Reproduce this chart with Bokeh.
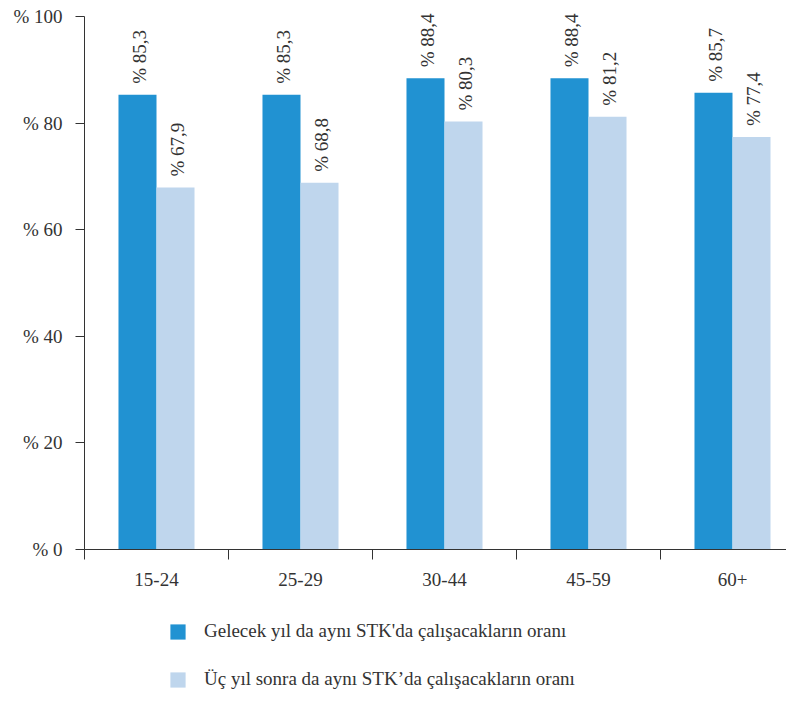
import numpy as np
from bokeh.plotting import figure
from bokeh.layouts import column
from bokeh.models import FixedTicker, Range1d, Legend, LegendItem, ColumnDataSource
from bokeh.core.properties import value
from bokeh.embed import file_html
from bokeh.resources import INLINE

categories = ["15-24", "25-29", "30-44", "45-59", "60+"]
series1 = [85.3, 85.3, 88.4, 88.4, 85.7]
series2 = [67.9, 68.8, 80.3, 81.2, 77.4]
series_names = ["Gelecek yıl da aynı STK'da çalışacakların oranı",
                "Üç yıl sonra da aynı STK’da çalışacakların oranı"]
y_ticks = [0, 20, 40, 60, 80, 100]

C1 = "#2192d2"
C2 = "#bfd6ed"
TXT = "#333333"
FONT = "Liberation Serif"

def fmt(v):
    return "% " + f"{v:.1f}".replace(".", ",")

idx = np.arange(len(categories))
centers = idx + 0.5
bw = 0.264

src1 = ColumnDataSource(dict(x=centers - bw / 2, top=series1, lab=[fmt(v) for v in series1]))
src2 = ColumnDataSource(dict(x=centers + bw / 2, top=series2, lab=[fmt(v) for v in series2]))

p = figure(width=786, height=600, output_backend="svg", toolbar_location=None,
           x_range=Range1d(0, 4.875), y_range=Range1d(0, 101.5),
           min_border_left=84, min_border_right=0, min_border_top=8, min_border_bottom=51)
p.outline_line_color = None
p.xgrid.visible = False
p.ygrid.visible = False

p.vbar(x="x", top="top", width=bw, source=src1, fill_color=C1, line_color=None)
p.vbar(x="x", top="top", width=bw, source=src2, fill_color=C2, line_color=None)

for src in (src1, src2):
    p.text(x="x", y="top", text="lab", source=src, angle=np.pi / 2,
           text_align="left", text_baseline="middle", x_offset=2, y_offset=-11,
           text_font=value(FONT), text_font_size="19px", text_color=TXT)

# x axis
xa = p.xaxis[0]
xa.ticker = FixedTicker(ticks=list(centers), minor_ticks=list(np.arange(len(categories) + 1)))
xa.major_label_overrides = {float(c): cat for c, cat in zip(centers, categories)}
xa.major_tick_line_color = None
xa.minor_tick_in = 0
xa.minor_tick_out = 10
xa.minor_tick_line_color = TXT
xa.axis_line_color = TXT
xa.major_label_text_font = FONT
xa.major_label_text_font_size = "19px"
xa.major_label_text_color = TXT
xa.major_label_standoff = 13

# y axis
ya = p.yaxis[0]
ya.bounds = (0, 100)
ya.ticker = FixedTicker(ticks=y_ticks, minor_ticks=[])
ya.major_label_overrides = {t: "% " + str(t) for t in y_ticks}
ya.major_tick_in = 0
ya.major_tick_out = 9
ya.major_tick_line_color = TXT
ya.axis_line_color = TXT
ya.major_label_text_font = FONT
ya.major_label_text_font_size = "19px"
ya.major_label_text_color = TXT
ya.major_label_standoff = 13

# legend in its own strip below the chart (legend swatches only; the
# dummy renderers sit outside the visible range)
lf = figure(width=786, height=90, output_backend="svg", toolbar_location=None,
            x_range=Range1d(0, 1), y_range=Range1d(0, 1),
            x_axis_type=None, y_axis_type=None,
            min_border_left=84, min_border_right=0, min_border_top=0, min_border_bottom=0)
lf.outline_line_color = None
lf.xgrid.visible = False
lf.ygrid.visible = False
swatch = ColumnDataSource(dict(x=[-10], top=[0]))
lr1 = lf.vbar(x="x", top="top", width=0.1, source=swatch, fill_color=C1, line_color=None)
lr2 = lf.vbar(x="x", top="top", width=0.1, source=swatch, fill_color=C2, line_color=None)

legend = Legend(items=[LegendItem(label=series_names[0], renderers=[lr1]),
                       LegendItem(label=series_names[1], renderers=[lr2])],
                location=(84, 0), orientation="vertical",
                glyph_width=19, glyph_height=19, label_height=19, label_standoff=17,
                spacing=26, padding=0, margin=0, border_line_color=None,
                background_fill_alpha=0,
                label_text_font=FONT, label_text_font_size="19px", label_text_color=TXT)
lf.add_layout(legend)

layout = column(p, lf, spacing=0)
open("out.html", "w").write(file_html(layout, INLINE))
